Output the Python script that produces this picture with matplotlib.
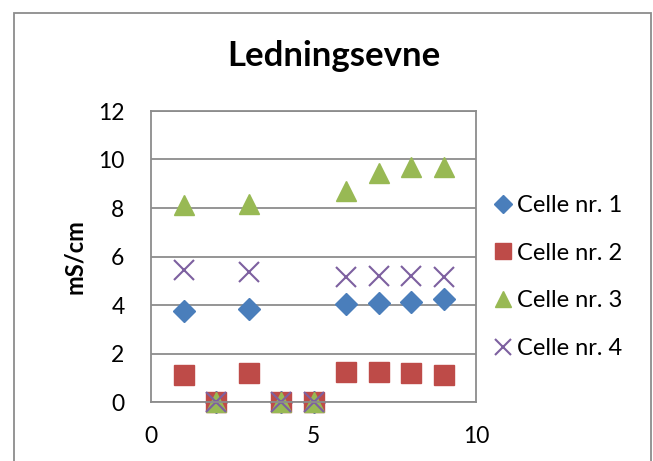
import matplotlib.pyplot as plt
from matplotlib.patches import Rectangle

plt.rcParams['font.family'] = ['Lato', 'DejaVu Sans']

# Data
x = [1, 2, 3, 4, 5, 6, 7, 8, 9]
celle1 = [3.76, 0, 3.83, 0, 0, 4.03, 4.08, 4.12, 4.23]
celle2 = [1.11, 0, 1.18, 0, 0, 1.25, 1.25, 1.21, 1.11]
celle3 = [8.12, 0, 8.16, 0, 0, 8.71, 9.43, 9.68, 9.70]
celle4 = [5.44, 0, 5.37, 0, 0, 5.14, 5.21, 5.21, 5.14]
labels = ['Celle nr. 1', 'Celle nr. 2', 'Celle nr. 3', 'Celle nr. 4']

fig = plt.figure(figsize=(6.53, 4.61), dpi=100)
ax = fig.add_axes([151 / 653, 59 / 461, 325 / 653, 291 / 461])

# chart area border (cut off at the bottom)
fig.patches.append(Rectangle((14 / 653, -0.05), 637 / 653, 1.05 - 13 / 461,
                             transform=fig.transFigure, fill=False,
                             edgecolor='#8c8c8c', linewidth=1.3))

ax.plot(x, celle1, 'D', color='#4a7ebb', markersize=11, label=labels[0], clip_on=False)
ax.plot(x, celle2, 's', color='#be4b48', markersize=14, label=labels[1], clip_on=False)
ax.plot(x, celle3, '^', color='#98b954', markersize=15, label=labels[2], clip_on=False)
ax.plot(x, celle4, 'x', color='#7d60a0', markersize=14, markeredgewidth=1.5,
        label=labels[3], clip_on=False)

ax.set_xlim(0, 10)
ax.set_ylim(0, 12)
ax.set_xticks([0, 5, 10])
ax.set_yticks(range(0, 13, 2))
ax.tick_params(length=0, labelsize=16.5)
ax.tick_params(axis='x', pad=17)
ax.tick_params(axis='y', pad=19)
ax.grid(axis='y', color='#8c8c8c', linewidth=1.3)
ax.set_axisbelow(True)
for s in ax.spines.values():
    s.set_color('#8c8c8c')
    s.set_linewidth(1.3)

ax.set_ylabel('mS/cm', fontsize=17, fontweight='bold', labelpad=9)
fig.text(334 / 653, 1 - 56 / 461, 'Ledningsevne', fontsize=25, fontweight='bold',
         ha='center', va='center')

ax.legend(loc='center left', bbox_to_anchor=(0.98, 0.43), frameon=False,
          fontsize=17, handletextpad=0.1, labelspacing=1.13, handlelength=1.0,
          markerscale=0.8)

fig.savefig('out.png', dpi=100)
